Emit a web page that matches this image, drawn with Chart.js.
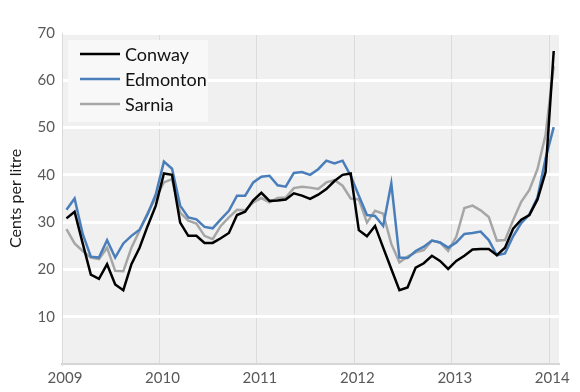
<!DOCTYPE html>
<html>
<head>
<meta charset="utf-8">
<script src="https://cdn.jsdelivr.net/npm/chart.js@4/dist/chart.umd.min.js"></script>
<style>
  html, body { margin: 0; padding: 0; background: #fff; }
  #wrap { width: 580px; height: 392px; }
</style>
</head>
<body>
<div id="wrap"><canvas id="priceChart" width="580" height="392"></canvas></div>
<script>
// monthly, Jan 2009 .. Jan 2014
const startYear = 2009;
const yearTicks = [2009, 2010, 2011, 2012, 2013, 2014];

const conway = [
    30.8, 32.2, 25.5, 18.9, 18.0, 21.1, 16.8, 15.6, 21.1, 24.6, 29.2, 33.5,
    40.3, 40.0, 29.9, 27.1, 27.1, 25.6, 25.6, 26.6, 27.7, 31.5, 32.2, 34.6,
    36.2, 34.5, 34.6, 34.8, 36.1, 35.6, 34.9, 35.8, 37.0, 38.7, 40.0, 40.3,
    28.3, 27.0, 29.2, 24.6, 20.1, 15.6, 16.2, 20.4, 21.3, 22.9, 21.8, 20.1,
    21.8, 22.9, 24.2, 24.3, 24.3, 23.0, 24.6, 28.6, 30.5, 31.5, 34.8, 40.6,
    66.2
];
const edmonton = [
    32.6, 35.0, 27.5, 22.7, 22.5, 26.2, 22.5, 25.5, 27.1, 28.4, 31.7, 35.9,
    42.8, 41.3, 33.5, 31.0, 30.6, 29.0, 28.7, 30.6, 32.4, 35.6, 35.6, 38.4,
    39.6, 39.8, 37.8, 37.5, 40.4, 40.6, 40.0, 41.2, 43.0, 42.4, 43.0, 39.8,
    35.6, 31.5, 31.3, 29.2, 38.2, 22.5, 22.4, 23.9, 24.8, 26.1, 25.7, 24.6,
    25.7, 27.5, 27.7, 28.0, 26.2, 23.0, 23.4, 27.0, 29.8, 31.6, 35.2, 43.5,
    50.1
];
const sarnia = [
    28.5, 25.5, 23.9, 22.5, 22.2, 24.6, 19.7, 19.6, 24.6, 28.2, 32.0, 35.2,
    38.4, 39.1, 32.0, 30.3, 29.7, 27.1, 26.4, 29.2, 31.0, 32.6, 32.5, 34.2,
    35.1, 34.2, 35.1, 35.2, 37.2, 37.5, 37.3, 37.0, 38.4, 38.9, 37.7, 35.0,
    34.8, 29.9, 32.4, 31.8, 25.4, 21.5, 22.7, 23.6, 24.1, 26.1, 25.7, 23.9,
    26.9, 33.0, 33.5, 32.5, 31.1, 26.1, 26.2, 30.4, 34.3, 36.8, 41.2, 48.5,
    63.0
];

const seriesNames = ['Conway', 'Edmonton', 'Sarnia'];
const seriesColors = ['#000000', '#4a7ebb', '#a6a6a6'];
const seriesValues = [conway, edmonton, sarnia];

// point i sits at mid-month of month i after Jan 2009
function toPoints(values){
    return values.map((v, i) => ({ x: startYear + (i + 0.55) / 12, y: v }));
}

const FONT = 'Lato, "Open Sans", sans-serif';

const plotBackground = {
    id: 'plotBackground',
    beforeDraw(chart){
        const a = chart.chartArea;
        const ctx = chart.ctx;
        ctx.save();
        ctx.fillStyle = '#f0f0f0';
        ctx.fillRect(a.left, a.top, a.right - a.left, a.bottom - a.top);
        ctx.restore();
    }
};

const boxLegend = {
    id: 'boxLegend',
    afterDatasetsDraw(chart){
        const a = chart.chartArea;
        const ctx = chart.ctx;
        const x0 = a.left + 6, y0 = a.top + 7;
        ctx.save();
        ctx.fillStyle = '#f8f8f8';
        ctx.fillRect(x0, y0, 140, 82);
        ctx.font = '18px ' + FONT;
        ctx.textBaseline = 'middle';
        seriesNames.forEach((name, i) => {
            const y = y0 + 14 + i * 25;
            ctx.strokeStyle = seriesColors[i];
            ctx.lineWidth = 2.5;
            ctx.beginPath();
            ctx.moveTo(x0 + 12, y);
            ctx.lineTo(x0 + 52, y);
            ctx.stroke();
            ctx.fillStyle = '#111';
            ctx.fillText(name, x0 + 57, y + 1);
        });
        ctx.restore();
    }
};

new Chart(document.getElementById('priceChart'), {
    type: 'line',
    data: {
        datasets: seriesNames.map((name, i) => ({
            label: name,
            data: toPoints(seriesValues[i]),
            borderColor: seriesColors[i],
            borderWidth: 2.5,
            pointRadius: 0,
            tension: 0,
            fill: false
        }))
    },
    options: {
        responsive: false,
        animation: false,
        layout: { padding: { top: 33, right: 21, left: 0, bottom: 0 } },
        plugins: {
            legend: { display: false },
            tooltip: { enabled: false }
        },
        scales: {
            x: {
                type: 'linear',
                min: 2009,
                max: 2014.1,
                afterFit(scale){ scale.height = 28; },
                afterBuildTicks(scale){ scale.ticks = yearTicks.map(v => ({ value: v })); },
                grid: { color: '#dcdcdc', lineWidth: 1, drawTicks: false },
                border: { display: true, color: '#d6d6d6', width: 2 },
                ticks: {
                    padding: 5,
                    labelOffset: 3,
                    color: '#595959',
                    font: { family: FONT, size: 15 },
                    callback: v => String(v)
                }
            },
            y: {
                min: 0,
                max: 70,
                afterFit(scale){ scale.width = 62; },
                grid: {
                    color: ctx => ctx.tick && ctx.tick.value === 0 ? 'rgba(0,0,0,0)' : '#ffffff',
                    lineWidth: 3,
                    tickLength: 5
                },
                border: { display: true, color: '#d9d9d9', width: 1 },
                ticks: {
                    stepSize: 10,
                    padding: 2,
                    color: '#595959',
                    font: { family: FONT, size: 15 },
                    callback: v => v === 0 ? '' : String(v)
                },
                title: {
                    display: true,
                    text: 'Cents per litre',
                    color: '#1a1a1a',
                    font: { family: FONT, size: 16 },
                    padding: { top: 6, bottom: 0 }
                }
            }
        }
    },
    plugins: [plotBackground, boxLegend]
});
</script>
</body>
</html>
